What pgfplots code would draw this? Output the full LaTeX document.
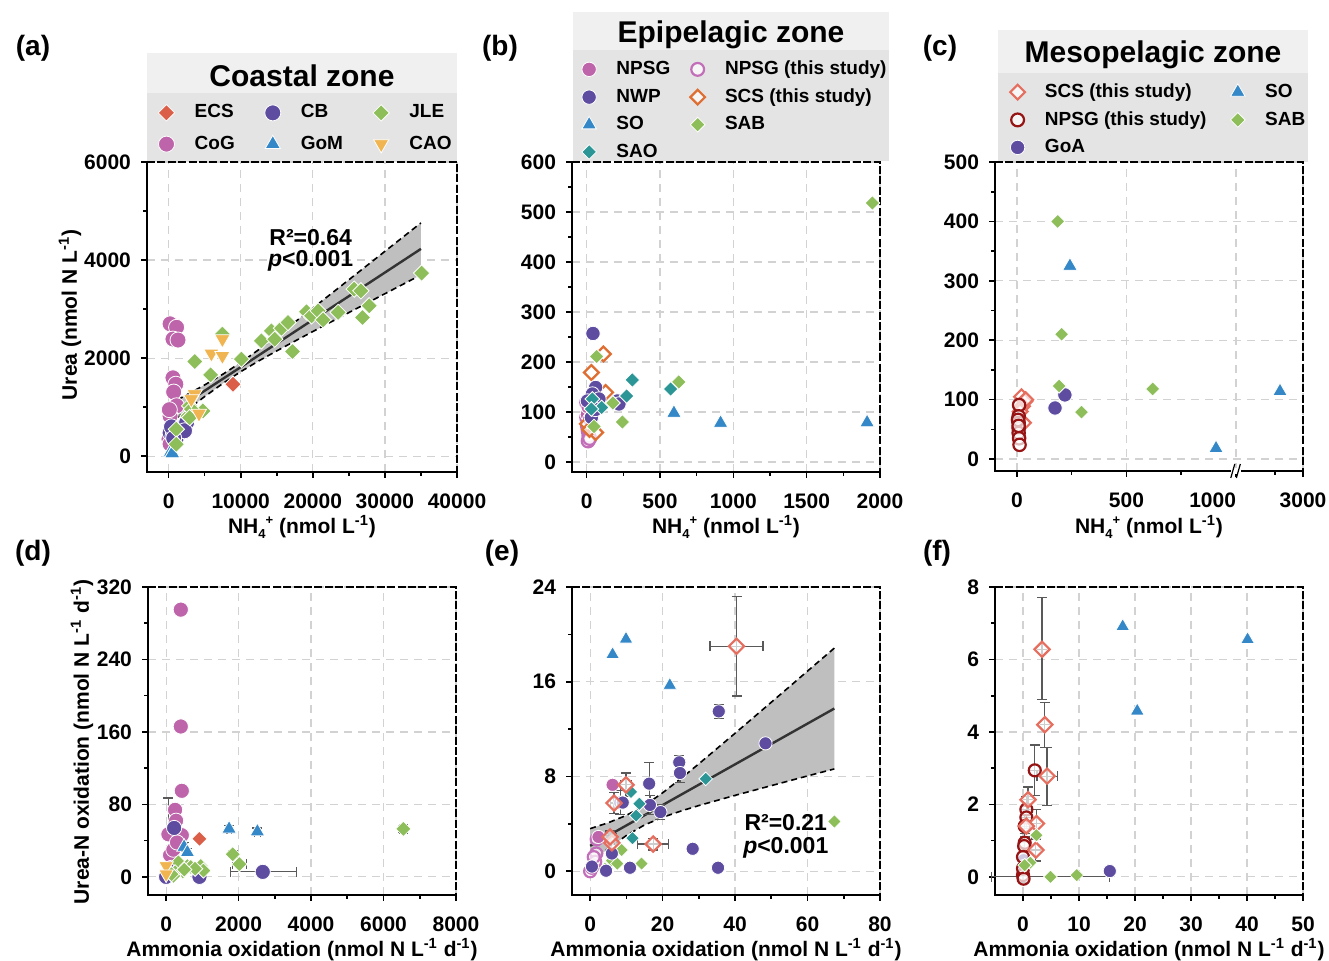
\documentclass[border=0pt]{standalone}
\usepackage{fontspec}
\setmainfont{Liberation Sans}
\usepackage{pgfplots}
\pgfplotsset{compat=1.18}

\definecolor{cECS}{RGB}{219,95,72}
\definecolor{cPink}{RGB}{190,100,170}
\definecolor{cPur}{RGB}{94,76,160}
\definecolor{cBlue}{RGB}{52,136,200}
\definecolor{cGreen}{RGB}{141,190,90}
\definecolor{cOrange}{RGB}{240,180,80}
\definecolor{cTeal}{RGB}{44,150,150}
\definecolor{cSCSb}{RGB}{222,110,50}
\definecolor{cSal}{RGB}{230,110,95}
\definecolor{cDred}{RGB}{150,20,20}
\definecolor{cPinkO}{RGB}{195,110,185}
\definecolor{bgTitle}{RGB}{240,240,240}
\definecolor{bgLeg}{RGB}{228,228,228}

\newcommand{\lgf}{\fontsize{9.5}{11}\selectfont\bfseries}
\newcommand{\axf}{\fontsize{10.5}{12}\selectfont\bfseries}
\newcommand{\nhf}{NH\raisebox{-2.2pt}{\fontsize{6.5}{7}\selectfont 4}\raisebox{4.8pt}{\fontsize{6.5}{7}\selectfont +}}
\newcommand{\axframe}{%
  \draw[line width=0.9pt, black, dash pattern=on 4pt off 1.2pt] (rel axis cs:0,1) -- (rel axis cs:1,1) -- (rel axis cs:1,0);
  \draw[line width=1.1pt, black] (rel axis cs:0,1) -- (rel axis cs:0,0) -- (rel axis cs:1,0);}

\pgfplotsset{
  panel/.style={
    scale only axis, width=154pt, height=154pt, anchor=south west,
    axis line style={draw=none},
    tick align=outside, xtick pos=left, ytick pos=left,
    major tick length=3pt, minor tick length=2pt,
    every tick/.style={black, line width=0.8pt},
    grid=major, major grid style={gray!35, dash pattern=on 4pt off 3pt, line width=0.6pt},
    tick label style={font=\axf},
    /pgf/number format/assume math mode=true, /pgf/number format/1000 sep={},
    scaled ticks=false, clip=false,
    xticklabel style={yshift=-4.5pt}, yticklabel style={xshift=-1.5pt},
    legend cell align=left,
  },
  fc/.style 2 args={only marks, mark=*, mark size=#2, mark options={draw=white, fill=#1, line width=0.4pt}},
  fd/.style 2 args={only marks, mark=square*, mark size=#2, mark options={draw=white, fill=#1, line width=0.4pt, rotate=45}},
  ft/.style 2 args={only marks, mark=triangle*, mark size=#2, mark options={draw=white, fill=#1, line width=0.4pt}},
  ftd/.style 2 args={only marks, mark=triangle*, mark size=#2, mark options={draw=white, fill=#1, line width=0.4pt, rotate=180}},
  oc/.style 2 args={only marks, mark=*, mark size=#2, mark options={draw=#1, fill=white, fill opacity=0.7, line width=1.1pt}},
  od/.style 2 args={only marks, mark=square*, mark size=#2, mark options={draw=#1, fill=white, fill opacity=0.7, line width=1.1pt, rotate=45}},
  ebxy/.style={error bars/.cd, x dir=both, x explicit, y dir=both, y explicit,
    error bar style={black!65, line width=0.6pt},
    error mark options={rotate=90, black!65, mark size=2.5pt, line width=0.6pt}},
}

\begin{document}
\begin{tikzpicture}
\useasboundingbox (0,0) rectangle (664.5pt,480.5pt);
% legend backgrounds and titles
\fill[bgLeg] (73.5pt,399.5pt) rectangle (228.5pt,434pt);
\fill[bgTitle] (73.5pt,434pt) rectangle (228.5pt,454pt);
\node[font=\fontsize{15}{17}\selectfont\bfseries] at (151pt,442.5pt) {Coastal zone};
\fill[bgLeg] (286.5pt,400pt) rectangle (444.5pt,455.5pt);
\fill[bgTitle] (286.5pt,455.5pt) rectangle (444.5pt,474.5pt);
\node[font=\fontsize{15}{17}\selectfont\bfseries] at (365.5pt,463pt) {Epipelagic zone};
\fill[bgLeg] (499pt,399.5pt) rectangle (654pt,444pt);
\fill[bgTitle] (499pt,444pt) rectangle (654pt,465.5pt);
\node[font=\fontsize{15}{17}\selectfont\bfseries] at (576.5pt,453pt) {Mesopelagic zone};

% ---------------- (a) ----------------
\begin{axis}[panel, at={(73.5pt,244.5pt)}, width=155pt, height=155pt,
  xmin=-3000, xmax=40000, ymin=-320, ymax=6000,
  xtick={0,10000,20000,30000,40000}, minor xtick={5000,15000,25000,35000},
  ytick={0,2000,4000,6000}, minor ytick={1000,3000,5000},
  legend columns=3,
  legend style={at={(0.516,1.108)}, anchor=center, draw=none, fill=none, font=\lgf, row sep=3.5pt,
    /tikz/every odd column/.append style={column sep=8pt},
    /tikz/every even column/.append style={column sep=13pt}}]
\addlegendimage{fd={cECS}{2.9pt}} \addlegendentry{ECS}
\addlegendimage{fc={cPur}{4pt}} \addlegendentry{CB}
\addlegendimage{fd={cGreen}{2.9pt}} \addlegendentry{JLE}
\addlegendimage{fc={cPink}{4pt}} \addlegendentry{CoG}
\addlegendimage{ft={cBlue}{4.4pt}} \addlegendentry{GoM}
\addlegendimage{ftd={cOrange}{4.4pt}} \addlegendentry{CAO}
\axframe
\addplot[fill=gray!50, draw=none, forget plot] coordinates {
 (0,1054) (2500,1252) (5000,1455) (7500,1671) (10000,1911) (12500,2174) (15000,2451) (17500,2735)
 (20000,3021) (22500,3309) (25000,3598) (27500,3888) (30000,4178) (32500,4468) (35000,4758)
 (35000,3698) (32500,3506) (30000,3314) (27500,3122) (25000,2930) (22500,2737) (20000,2543)
 (17500,2347) (15000,2149) (12500,1944) (10000,1725) (7500,1483) (5000,1217) (2500,938) (0,654)} -- cycle;
\addplot[black, dash pattern=on 3pt off 2pt, line width=0.8pt, forget plot] coordinates {
 (0,1054) (2500,1252) (5000,1455) (7500,1671) (10000,1911) (12500,2174) (15000,2451) (17500,2735)
 (20000,3021) (22500,3309) (25000,3598) (27500,3888) (30000,4178) (32500,4468) (35000,4758)};
\addplot[black, dash pattern=on 3pt off 2pt, line width=0.8pt, forget plot] coordinates {
 (0,654) (2500,938) (5000,1217) (7500,1483) (10000,1725) (12500,1944) (15000,2149) (17500,2347)
 (20000,2543) (22500,2737) (25000,2930) (27500,3122) (30000,3314) (32500,3506) (35000,3698)};
\addplot[black!80, line width=1.2pt, forget plot] coordinates {(0,854) (35000,4228)};
% CoG
\addplot[fc={cPink}{4pt}, forget plot] coordinates {
 (200,2700) (1100,2630) (600,2390) (1300,2370) (600,1600) (1000,1470) (700,1310) (1100,1030)
 (200,820) (300,480) (100,950) (50,350) (200,250)};
% CB
\addplot[fc={cPur}{4pt}, forget plot] coordinates {
 (200,480) (600,410) (1000,330) (2000,590) (2500,690) (2200,520) (400,600) (700,370)};
% GoM
\addplot[ft={cBlue}{4.4pt}, forget plot] coordinates {(300,90) (500,60)};
% JLE
\addplot[fd={cGreen}{2.9pt}, forget plot] coordinates {
 (3611,1932) (5833,1660) (7458,2490) (10097,1980) (12875,2353) (14264,2557) (14722,2388) (15653,2612)
 (16570,2728) (17180,2136) (19125,2945) (19820,2863) (20736,2966) (21430,2782) (23514,2932) (25736,3408)
 (26667,3374) (26898,2830) (27820,3068) (35097,3735) (2917,1027) (2680,822) (4764,925) (1070,551)
 (1070,245) (3150,960) (2917,789)};
% CAO
\addplot[ftd={cOrange}{4.4pt}, forget plot] coordinates {
 (5930,2095) (7460,2388) (7460,2047) (3611,1265) (3150,1163) (4210,871)};
% ECS
\addplot[fd={cECS}{2.9pt}, forget plot] coordinates {(8930,1469)};
\node[font=\fontsize{11.5}{13}\selectfont\bfseries] at (axis cs:19700,4450) {R²=0.64};
\node[font=\fontsize{11.5}{13}\selectfont\bfseries] at (axis cs:19700,3980) {\textit{p}<0.001};
\end{axis}

% ---------------- (b) ----------------
\begin{axis}[panel, at={(286pt,244.5pt)}, width=154pt, height=155pt,
  xmin=-100, xmax=2000, ymin=-20, ymax=600,
  xtick={0,500,1000,1500,2000}, minor xtick={250,750,1250,1750},
  ytick={0,100,...,600}, minor ytick={50,150,...,550},
  legend columns=2,
  legend style={at={(0.533,1.166)}, anchor=center, draw=none, fill=none, font=\lgf,
    row sep=1.5pt, /tikz/every odd column/.append style={column sep=8pt},
    /tikz/every even column/.append style={column sep=8pt}}]
\addlegendimage{fc={cPink}{3.6pt}} \addlegendentry{NPSG}
\addlegendimage{oc={cPinkO}{3.2pt}} \addlegendentry{NPSG (this study)}
\addlegendimage{fc={cPur}{3.6pt}} \addlegendentry{NWP}
\addlegendimage{od={cSCSb}{2.6pt}} \addlegendentry{SCS (this study)}
\addlegendimage{ft={cBlue}{4.2pt}} \addlegendentry{SO}
\addlegendimage{fd={cGreen}{2.6pt}} \addlegendentry{SAB}
\addlegendimage{fd={cTeal}{2.6pt}} \addlegendentry{SAO}
\axframe
\addplot[oc={cPinkO}{3.2pt}, forget plot] coordinates {
 (0,119) (0,89) (10,62) (15,52) (10,42) (20,47) (5,72)};
\addplot[fc={cPink}{3.6pt}, forget plot] coordinates {(5,95) (20,85) (10,110)};
\addplot[od={cSCSb}{2.6pt}, forget plot] coordinates {
 (114,216) (32,179) (129,139) (5,76) (61,59) (20,65)};
\addplot[fc={cPur}{3.6pt}, forget plot] coordinates {
 (43,257) (61,149) (39,136) (84,126) (209,122) (220,116) (32,89) (5,122) (60,105)};
\addplot[fd={cTeal}{2.6pt}, forget plot] coordinates {
 (311,164) (572,146) (272,132) (102,109) (39,126) (32,106)};
\addplot[fd={cGreen}{2.6pt}, forget plot] coordinates {
 (1948,518) (628,160) (68,211) (179,118) (243,80) (50,71)};
\addplot[ft={cBlue}{4.2pt}, forget plot] coordinates {(595,98) (913,78) (1912,79)};
\end{axis}

% ---------------- (c) ----------------
% x above 1000 is drawn on a broken axis: plotted x = 1000 + (x-1000)*0.153 (3000 -> 1306)
\begin{axis}[panel, at={(497.5pt,245pt)}, width=154pt, height=154.5pt,
  xmin=-100, xmax=1306, ymin=-20, ymax=500,
  xtick={0,500,1000,1306}, xticklabels={0,500,\makebox[0pt][r]{1000},3000},
  minor xtick={250,750,1178},
  ytick={0,100,...,500}, minor ytick={50,150,...,450},
  legend columns=2,
  legend style={at={(0.535,1.137)}, anchor=center, draw=none, fill=none, font=\lgf,
    row sep=1.5pt, /tikz/every odd column/.append style={column sep=8pt},
    /tikz/every even column/.append style={column sep=10pt}}]
\addlegendimage{od={cSal}{2.6pt}} \addlegendentry{SCS (this study)}
\addlegendimage{ft={cBlue}{4.2pt}} \addlegendentry{SO}
\addlegendimage{oc={cDred}{3.2pt}} \addlegendentry{NPSG (this study)}
\addlegendimage{fd={cGreen}{2.6pt}} \addlegendentry{SAB}
\addlegendimage{fc={cPur}{3.6pt}} \addlegendentry{GoA}
\axframe
\addplot[od={cSal}{2.6pt}, forget plot] coordinates {
 (21,105) (36,97) (25,89) (30,61) (15,80) (40,100)};
\addplot[oc={cDred}{3.1pt}, forget plot] coordinates {
 (10,91) (8,72) (8,61) (8,52) (8,44) (10,35) (12,24) (5,66) (8,56)};
\addplot[fc={cPur}{3.6pt}, forget plot] coordinates {(174,86) (219,108)};
\addplot[ft={cBlue}{4.2pt}, forget plot] coordinates {(242,325) (909,18) (1201,114)};
\addplot[fd={cGreen}{2.5pt}, forget plot] coordinates {
 (186,400) (204,210) (193,123) (295,79) (620,118)};
\node[fill=white, inner sep=0pt, minimum width=5pt, minimum height=3pt] at (axis cs:1000,-20) {};
\draw[black, line width=0.6pt] (axis cs:1000,-20) ++(-2.6pt,-3.5pt) -- ++(2pt,7pt);
\draw[black, line width=0.6pt] (axis cs:1000,-20) ++(0.2pt,-3.5pt) -- ++(2pt,7pt);
\end{axis}

% ---------------- (d) ----------------
\begin{axis}[panel, at={(74pt,33pt)}, width=154pt, height=154pt,
  xmin=-500, xmax=8000, ymin=-20, ymax=320,
  xtick={0,2000,...,8000}, minor xtick={1000,3000,5000,7000},
  ytick={0,80,...,320}, minor ytick={40,120,200,280}]
\axframe
\addplot[fc={cPink}{3.8pt}, ebxy] coordinates {(63,47) += (0,40) -= (0,2)};
\addplot[fc={cPink}{3.8pt}] coordinates {
 (405,295) (405,166) (433,95) (248,74) (276,62) (433,46) (110,24) (200,30) (300,38) (150,10)};
\addplot[fc={cPur}{3.8pt}, ebxy] coordinates {(2667,5.5) += (930,0) -= (900,0)};
\addplot[fc={cPur}{3.8pt}] coordinates {(221,54) (920,0) (0,0) (300,10)};
\addplot[fd={cECS}{2.7pt}] coordinates {(920,42)};
\addplot[ft={cBlue}{4.2pt}, ebxy] coordinates {
 (1738,53) +- (60,4) (2519,50) +- (80,4) (497,33) +- (100,5) (588,27) +- (60,4)};
\addplot[fd={cGreen}{2.7pt}, ebxy] coordinates {
 (6547,53) +- (100,4) (1839,25) +- (40,4) (2022,14) +- (200,0)};
\addplot[fd={cGreen}{2.7pt}] coordinates {
 (338,16) (588,12) (460,6) (957,12) (1030,7) (248,5) (681,11) (200,1) (150,3) (800,9) (500,8)};
\addplot[ftd={cOrange}{4.2pt}] coordinates {(0,12) (0,3)};
\end{axis}

% ---------------- (e) ----------------
\begin{axis}[panel, at={(286pt,33pt)}, width=154pt, height=154pt,
  xmin=-5, xmax=80, ymin=-2, ymax=24,
  xtick={0,20,...,80}, minor xtick={10,30,50,70},
  ytick={0,8,16,24}, minor ytick={4,12,20}]
\axframe
\addplot[fill=gray!50, draw=none, forget plot] coordinates {
 (0,3.60) (5,4.10) (10,4.72) (15,5.55) (20,6.62) (25,7.82) (30,9.07) (35,10.36) (40,11.65)
 (45,12.96) (50,14.27) (55,15.58) (60,16.90) (65,18.21) (67.4,18.84)
 (67.4,8.64) (65,8.45) (60,8.05) (55,7.64) (50,7.23) (45,6.82) (40,6.41) (35,5.98) (30,5.55)
 (25,5.08) (20,4.56) (15,3.91) (10,3.02) (5,1.92) (0,0.70)} -- cycle;
\addplot[black, dash pattern=on 3pt off 2pt, line width=0.8pt] coordinates {
 (0,3.60) (5,4.10) (10,4.72) (15,5.55) (20,6.62) (25,7.82) (30,9.07) (35,10.36) (40,11.65)
 (45,12.96) (50,14.27) (55,15.58) (60,16.90) (65,18.21) (67.4,18.84)};
\addplot[black, dash pattern=on 3pt off 2pt, line width=0.8pt] coordinates {
 (0,0.70) (5,1.92) (10,3.02) (15,3.91) (20,4.56) (25,5.08) (30,5.55) (35,5.98) (40,6.41)
 (45,6.82) (50,7.23) (55,7.64) (60,8.05) (65,8.45) (67.4,8.64)};
\addplot[black!80, line width=1.2pt] coordinates {(0,2.15) (67.4,13.74)};
\addplot[fd={cGreen}{2.4pt}] coordinates {
 (67.4,4.2) (8.7,1.8) (6.0,0.9) (7.5,0.65) (14.2,0.65) (4.1,0.2)};
\addplot[oc={cPinkO}{3.0pt}] coordinates {(1.8,2.7) (1.7,1.5) (1.4,0.8) (0,0) (0.5,0.3) (1,1.2)};
\addplot[fc={cPink}{3.3pt}] coordinates {(6.2,7.3) (2.3,2.9)};
\addplot[fc={cPur}{3.3pt}, ebxy] coordinates {
 (35.5,13.5) +- (0,0.6) (48.4,10.8) +- (0,0.3) (24.6,9.2) +- (0,0.6) (24.8,8.3) +- (0,0.8)
 (16.3,7.4) +- (0,1.8) (19.4,5.0) +- (0,0.6) (8.3,5.8) +- (0,1.0) (16.5,5.6) +- (0,0.8)};
\addplot[fc={cPur}{3.3pt}] coordinates {
 (9,5.8) (28.3,1.9) (35.3,0.3) (11.0,0.3) (0.5,0.4) (6.0,1.5) (4.4,0.05)};
\addplot[fd={cTeal}{2.4pt}] coordinates {(31.9,7.8) (11.3,6.7) (13.6,5.7) (12.7,4.7) (11.7,2.8)};
\addplot[od={cSal}{2.7pt}, ebxy] coordinates {
 (40.4,19.0) +- (7.3,4.2) (9.9,7.3) +- (1.5,1.0) (17.4,2.3) +- (4.3,0.5) (6.0,2.4) +- (1.0,0.8)
 (5.5,2.9) +- (1.2,0.5) (6.6,5.76) +- (1.0,0.9)};
\addplot[ft={cBlue}{4.0pt}] coordinates {(6.2,18.3) (9.9,19.6) (22.0,15.7)};
\node[font=\fontsize{11.5}{13}\selectfont\bfseries] at (axis cs:54,4.07) {R²=0.21};
\node[font=\fontsize{11.5}{13}\selectfont\bfseries] at (axis cs:54,2.02) {\textit{p}<0.001};
\end{axis}

% ---------------- (f) ----------------
\begin{axis}[panel, at={(497.5pt,33pt)}, width=154pt, height=154pt,
  xmin=-5, xmax=50, ymin=-0.5, ymax=8,
  xtick={0,10,...,50}, minor xtick={5,15,...,45},
  ytick={0,2,...,8}, minor ytick={1,3,5,7}]
\axframe
\addplot[fd={cGreen}{2.4pt}, ebxy] coordinates {(4.9,0) +- (10.5,0) (9.6,0.05) +- (0.4,0.05)};
\addplot[fc={cPur}{3.3pt}] coordinates {(15.5,0.16) (0.1,0.46) (0.2,0.3)};
\addplot[oc={cDred}{3.0pt}, ebxy] coordinates {
 (2.1,2.94) +- (0,0.7) (0.6,1.86) +- (0,0.35) (0.6,1.64) +- (0,0.3) (0.3,1.4) +- (0,0.3)
 (0.3,0.94) +- (0,0.25) (0,0.05) +- (0,0.2)};
\addplot[oc={cDred}{3.0pt}] coordinates {(0.2,0.85) (0,0.55) (0,0.23) (0.1,-0.05)};
\addplot[od={cSal}{2.7pt}, ebxy] coordinates {
 (3.4,6.28) += (0,1.42) -= (0,1.38) (3.9,4.2) +- (0,0.62) (4.3,2.78) +- (1.8,0.8)
 (0.9,2.13) +- (0,0.35) (2.4,1.47) +- (0,0.4) (2.3,0.74) +- (0,0.3)};
\addplot[od={cSal}{2.7pt}] coordinates {(0.6,1.4)};
\addplot[fd={cGreen}{2.4pt}] coordinates {(2.4,1.15) (1.3,0.39) (0.3,0.32)};
\addplot[ft={cBlue}{4.0pt}] coordinates {(17.8,6.91) (40.1,6.55) (20.4,4.58)};
\end{axis}

% panel letters
\node[font=\fontsize{14}{16}\selectfont\bfseries] at (16.5pt,456.5pt) {(a)};
\node[font=\fontsize{14}{16}\selectfont\bfseries] at (250pt,456.5pt) {(b)};
\node[font=\fontsize{14}{16}\selectfont\bfseries] at (470pt,456.5pt) {(c)};
\node[font=\fontsize{14}{16}\selectfont\bfseries] at (16.5pt,204pt) {(d)};
\node[font=\fontsize{14}{16}\selectfont\bfseries] at (251pt,204pt) {(e)};
\node[font=\fontsize{14}{16}\selectfont\bfseries] at (468.5pt,204pt) {(f)};
% axis labels
\node[font=\axf, inner sep=0pt] at (151pt,217pt) {\nhf{} (nmol L\textsuperscript{-1})};
\node[font=\axf, inner sep=0pt] at (363pt,217pt) {\nhf{} (nmol L\textsuperscript{-1})};
\node[font=\axf, inner sep=0pt] at (574.5pt,217pt) {\nhf{} (nmol L\textsuperscript{-1})};
\node[font=\axf, inner sep=0pt] at (151pt,5.5pt) {Ammonia oxidation (nmol N L\textsuperscript{-1} d\textsuperscript{-1})};
\node[font=\axf, inner sep=0pt] at (363pt,5.5pt) {Ammonia oxidation (nmol N L\textsuperscript{-1} d\textsuperscript{-1})};
\node[font=\axf, inner sep=0pt] at (574.5pt,5.5pt) {Ammonia oxidation (nmol N L\textsuperscript{-1} d\textsuperscript{-1})};
\node[font=\axf, rotate=90, inner sep=0pt] at (35pt,323pt) {Urea (nmol N L\textsuperscript{-1})};
\node[font=\axf, rotate=90, inner sep=0pt] at (41pt,109.5pt) {Urea-N oxidation (nmol N L\textsuperscript{-1} d\textsuperscript{-1})};
\end{tikzpicture}
\end{document}
